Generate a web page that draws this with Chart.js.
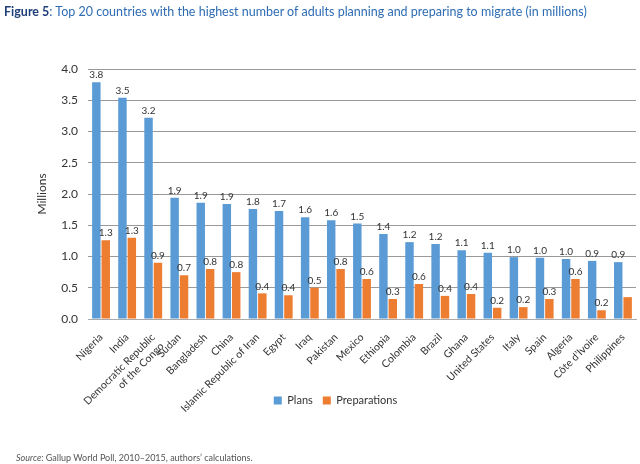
<!DOCTYPE html>
<html>
<head>
<meta charset="utf-8">
<script src="https://cdn.jsdelivr.net/npm/chart.js@4.4.1/dist/chart.umd.min.js"></script>
<style>
  body { margin: 0; background: #fff; font-family: Lato, 'Open Sans', sans-serif; }
  #wrap { position: relative; width: 640px; height: 464px; }
  #title { position: absolute; left: 4px; top: 4px; font-size: 12.5px; color: #2E6DB4; white-space: nowrap; }
  #title b { color: #1F3F7A; }
  #source { position: absolute; left: 16px; top: 452px; font-size: 9px; color: #555; }
  canvas { position: absolute; left: 0; top: 0; }
</style>
</head>
<body>
<div id="wrap">
  <canvas id="myChart" width="640" height="464"></canvas>
  <div id="title"><b>Figure 5</b>: Top 20 countries with the highest number of adults planning and preparing to migrate (in millions)</div>
  <div id="source"><i>Source</i>: Gallup World Poll, 2010–2015, authors’ calculations.</div>
</div>
<script>
const countries = ['Nigeria', 'India', ['Democratic Republic', 'of the Congo'], 'Sudan', 'Bangladesh', 'China',
    'Islamic Republic of Iran', 'Egypt', 'Iraq', 'Pakistan', 'Mexico', 'Ethiopia', 'Colombia', 'Brazil',
    'Ghana', 'United States', 'Italy', 'Spain', 'Algeria', 'Côte d’Ivoire', 'Philippines'];
const plans = [3.79, 3.54, 3.22, 1.94, 1.86, 1.84, 1.76, 1.73, 1.63, 1.58, 1.53, 1.36, 1.23, 1.2,
    1.1, 1.06, 0.99, 0.98, 0.96, 0.93, 0.91];
const preparations = [1.26, 1.3, 0.9, 0.7, 0.8, 0.75, 0.41, 0.38, 0.5, 0.8, 0.64, 0.32, 0.56, 0.37,
    0.4, 0.18, 0.19, 0.32, 0.64, 0.14, 0.35];
const planLabels = ['3.8', '3.5', '3.2', '1.9', '1.9', '1.9', '1.8', '1.7', '1.6', '1.6', '1.5', '1.4', '1.2', '1.2',
    '1.1', '1.1', '1.0', '1.0', '1.0', '0.9', '0.9'];
const prepLabels = ['1.3', '1.3', '0.9', '0.7', '0.8', '0.8', '0.4', '0.4', '0.5', '0.8', '0.6', '0.3', '0.6', '0.4',
    '0.4', '0.2', '0.2', '0.3', '0.6', '0.2', ''];
const yTicks = [0, 0.5, 1, 1.5, 2, 2.5, 3, 3.5, 4];

// Excel-style value labels above the bars
const barLabels = {
    id: 'barLabels',
    afterDatasetsDraw(chart) {
        const ctx = chart.ctx;
        ctx.save();
        ctx.font = '10px Lato, sans-serif';
        ctx.fillStyle = '#333';
        ctx.textAlign = 'center';
        ctx.textBaseline = 'bottom';
        chart.data.datasets.forEach((ds, i) => {
            chart.getDatasetMeta(i).data.forEach((bar, j) => {
                ctx.fillText(ds.valueLabels[j], bar.x, bar.y - 2);
            });
        });
        ctx.restore();
    }
};

const myCanvas = document.getElementById('myChart').getContext('2d');

const myChart = new Chart(myCanvas, {
    type: 'bar',
    data: {
        labels: countries,
        datasets: [{
            label: 'Plans',
            data: plans,
            valueLabels: planLabels,
            backgroundColor: '#5B9BD5',
        }, {
            label: 'Preparations',
            data: preparations,
            valueLabels: prepLabels,
            backgroundColor: '#ED7D31',
        }],
    },
    options: {
        responsive: false,
        animation: false,
        categoryPercentage: 0.72,
        barPercentage: 0.9,
        layout: {
            padding: { top: 69, left: 35, right: 4, bottom: 48 }
        },
        scales: {
            x: {
                grid: { display: false },
                border: { color: '#aaa' },
                afterFit(axis) {
                    // long rotated names run into the legend row, like the original
                    axis.height = 66;
                    axis._computeLabelArea = () => null;
                },
                ticks: {
                    minRotation: 45,
                    maxRotation: 45,
                    autoSkip: false,
                    color: '#333',
                    padding: 4,
                    font: { size: 10.5, family: 'Lato, sans-serif' }
                }
            },
            y: {
                min: 0,
                max: 4,
                afterBuildTicks(axis) {
                    axis.ticks = yTicks.map(v => ({ value: v }));
                },
                afterFit(axis) { axis.width = 53; },
                grid: { color: '#999', drawTicks: false },
                border: { display: false },
                ticks: {
                    color: '#333',
                    padding: 10,
                    font: { size: 12, family: 'Lato, sans-serif' },
                    callback: v => v.toFixed(1)
                },
                title: {
                    display: true,
                    text: 'Millions',
                    color: '#333',
                    padding: 0,
                    font: { size: 12, family: 'Lato, sans-serif' }
                }
            }
        },
        plugins: {
            legend: {
                position: 'bottom',
                labels: {
                    boxWidth: 8,
                    boxHeight: 8,
                    color: '#333',
                    font: { size: 11, family: 'Lato, sans-serif' }
                }
            },
            tooltip: { enabled: false }
        }
    },
    plugins: [barLabels]
});
</script>
</body>
</html>
